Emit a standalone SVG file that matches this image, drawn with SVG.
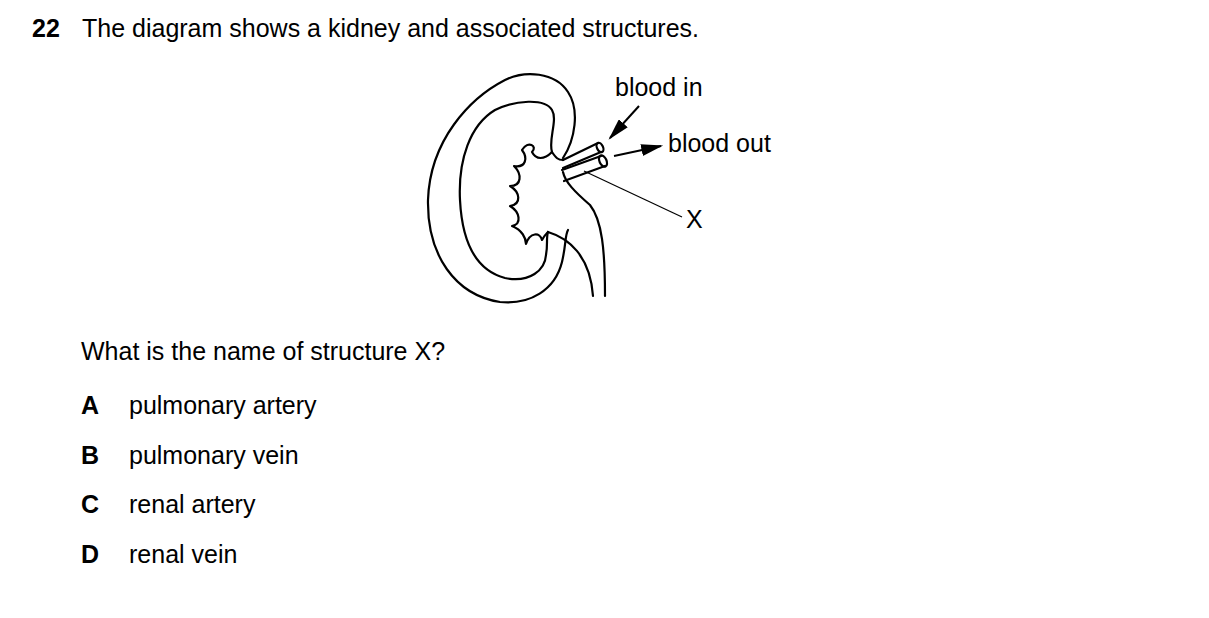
<svg xmlns="http://www.w3.org/2000/svg" width="1209" height="618" viewBox="0 0 1209 618">
<style>
text{font-family:"Liberation Sans",Arial,sans-serif;font-size:25px;fill:#000}
.l{fill:none;stroke:#000;stroke-width:2.2;stroke-linecap:round;stroke-linejoin:round}
.t{fill:none;stroke:#000;stroke-width:1.2}
.b{font-weight:bold}
</style>
<defs><marker id="ah2" viewBox="0 0 10 10" refX="9" refY="5" markerWidth="22" markerHeight="12" orient="auto" markerUnits="userSpaceOnUse" preserveAspectRatio="none"><path d="M0,0 L10,5 L0,10 z"/></marker></defs>
<rect width="1209" height="618" fill="#fff"/>
<text x="32" y="37" class="b">22</text>
<text x="82" y="37">The diagram shows a kidney and associated structures.</text>
<g id="kidney">
<path class="l" d="M563,158 C575,140 580,110 568,92 C555,72 525,70 505,80 C470,98 430,140 428,200 C427,255 455,295 500,302 C530,305 555,290 562,262 C566,245 565,235 568,230"/>
<path class="l" d="M552,152 C548,140 558,120 552,110 C545,98 515,100 495,110 C470,125 458,160 460,200 C462,240 475,270 505,278 C530,283 545,270 546,255 C548,245 546,238 548,232"/>
<path class="l" d="M552,152 C544,160 536,160 532,152 C538,146 528,140 522,150 C528,158 526,168 514,166 C522,174 522,186 510,186 C520,192 522,204 510,206 C520,212 522,224 512,226 C522,230 526,238 526,244 C530,232 540,232 542,240 C544,236 546,234 548,232"/>
<path class="l" d="M552,152 C556,158 558,160 563,160"/>
<path class="l" d="M548,232 C568,238 590,255 593,296"/>
<path class="l" d="M563,172 C565,182 575,192 590,205 C602,220 605,250 605,296"/>
</g>
<g id="vessels">
<path class="l" d="M563,160 L598,143 M563,168 L601,152"/>
<ellipse class="l" cx="600" cy="147.5" rx="3" ry="5" transform="rotate(-25 600 147.5)"/>
<path class="l" d="M562,170 L601,156 M564,181 L605,166"/>
<ellipse class="l" cx="603" cy="161" rx="3.5" ry="6" transform="rotate(-25 603 161)"/>
</g>
<g id="connectors">
<line x1="639" y1="106" x2="610" y2="138" stroke="#000" stroke-width="2" marker-end="url(#ah2)"/>
<line x1="614" y1="156" x2="661" y2="146" stroke="#000" stroke-width="2" marker-end="url(#ah2)"/>
<line class="t" x1="584" y1="171" x2="682" y2="217"/>
</g>
<text x="615" y="96">blood in</text>
<text x="668" y="152">blood out</text>
<text x="686" y="228">X</text>
<text x="81" y="360">What is the name of structure X?</text>
<text x="81" y="414" class="b">A</text><text x="129" y="414">pulmonary artery</text>
<text x="81" y="464" class="b">B</text><text x="129" y="464">pulmonary vein</text>
<text x="81" y="513" class="b">C</text><text x="129" y="513">renal artery</text>
<text x="81" y="563" class="b">D</text><text x="129" y="563">renal vein</text>
</svg>
